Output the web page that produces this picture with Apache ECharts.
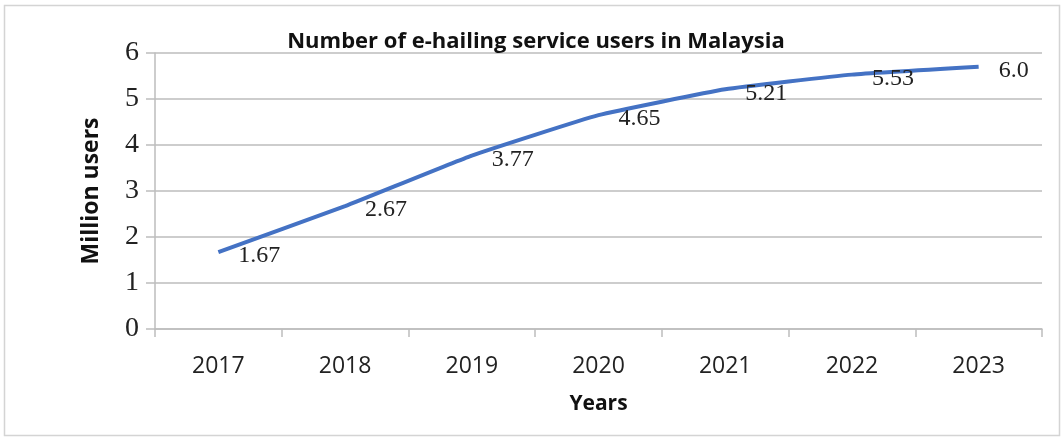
<!DOCTYPE html>
<html>
<head>
<meta charset="utf-8">
<script src="https://cdn.jsdelivr.net/npm/echarts@6/dist/echarts.min.js"></script>
<style>html,body{margin:0;padding:0;background:#fff;}#c{width:1061px;height:437px;}</style>
</head>
<body>
<div id="c"></div>
<script>
const years = ['2017', '2018', '2019', '2020', '2021', '2022', '2023'];
const users = [1.67, 2.67, 3.77, 4.65, 5.21, 5.53, 5.70];
const pointLabels = ['1.67', '2.67', '3.77', '4.65', '5.21', '5.53', '6.0'];
const yTicks = [0, 1, 2, 3, 4, 5, 6];

const chart = echarts.init(document.getElementById('c'));
chart.setOption({
  backgroundColor: '#fff',
  animation: false,
  graphic: [{
    type: 'rect', left: 2, top: 3, shape: { width: 1055, height: 430 },
    style: { fill: 'none', stroke: '#d4d4d4', lineWidth: 1.5 }
  }],
  title: {
    text: 'Number of e-hailing service users in Malaysia',
    left: 531, top: 26, textAlign: 'center',
    textStyle: { fontFamily: 'Open Sans', fontWeight: 'bold', fontSize: 22, color: '#111' }
  },
  grid: { left: 155, right: 19, top: 53, bottom: 108 },
  xAxis: {
    type: 'category', data: years, boundaryGap: true,
    name: 'Years', nameLocation: 'middle', nameGap: 65,
    nameTextStyle: { fontFamily: 'Open Sans', fontWeight: 'bold', fontSize: 21, color: '#111' },
    axisLine: { lineStyle: { color: '#bdbdbd', width: 1.5 } },
    axisTick: { show: true, alignWithLabel: false, length: 8, lineStyle: { color: '#bdbdbd', width: 1.5 } },
    axisLabel: { fontFamily: 'Open Sans', fontSize: 23, color: '#222', margin: 26 }
  },
  yAxis: {
    type: 'value', min: yTicks[0], max: yTicks[yTicks.length - 1], interval: 1,
    name: 'Million users', nameLocation: 'middle', nameGap: 52,
    nameTextStyle: { fontFamily: 'Open Sans', fontWeight: 'bold', fontSize: 23, color: '#111' },
    axisLine: { show: true, lineStyle: { color: '#bdbdbd', width: 1.5 } },
    axisTick: { show: true, length: 9, lineStyle: { color: '#bdbdbd', width: 1.5 } },
    axisLabel: { fontFamily: 'Liberation Serif', fontSize: 28, color: '#222', margin: 16 },
    splitLine: { lineStyle: { color: '#bdbdbd', width: 1.5 } }
  },
  series: [{
    type: 'line', data: users, smooth: 0.12,
    symbol: 'circle', symbolSize: 0, showSymbol: true,
    itemStyle: { color: '#4472C4' },
    lineStyle: { color: '#4472C4', width: 4 },
    label: {
      show: true, position: 'right', distance: 20, offset: [0, 4],
      fontFamily: 'Liberation Serif', fontSize: 24, color: '#222',
      formatter: p => pointLabels[p.dataIndex]
    }
  }]
});
</script>
</body>
</html>
